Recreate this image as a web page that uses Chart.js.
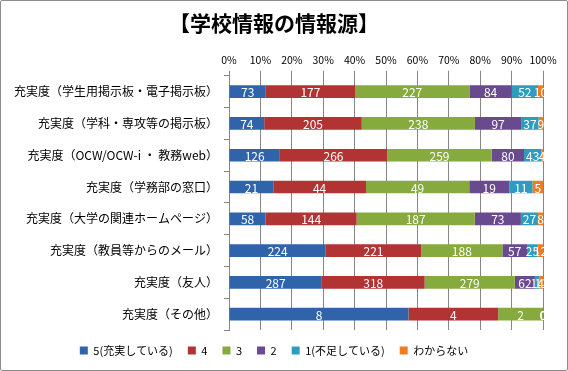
<!DOCTYPE html>
<html>
<head>
<meta charset="utf-8">
<script src="https://cdn.jsdelivr.net/npm/chart.js@4"></script>
<style>
  body { margin: 0; background: #fff; }
  #wrap { width: 566px; height: 369px; border: 1px solid #8c8c8c; border-radius: 2px; }
</style>
</head>
<body>
<div id="wrap"><canvas id="chart" width="566" height="369"></canvas></div>
<script>
// カテゴリ
const categories = [
  "充実度（学生用掲示板・電子掲示板）",
  "充実度（学科・専攻等の掲示板）",
  "充実度（OCW/OCW-i ・ 教務web）",
  "充実度（学務部の窓口）",
  "充実度（大学の関連ホームページ）",
  "充実度（教員等からのメール）",
  "充実度（友人）",
  "充実度（その他）"
];

// 回答数（系列ごと）
const s5 = [73, 74, 126, 21, 58, 224, 287, 8];
const s4 = [177, 205, 266, 44, 144, 221, 318, 4];
const s3 = [227, 238, 259, 49, 187, 188, 279, 2];
const s2 = [84, 97, 80, 19, 73, 57, 62, 0];
const s1 = [52, 37, 43, 11, 27, 25, 14, 0];
const sNA = [10, 9, 4, 5, 8, 12, 11, 0];

const seriesNames = ["5(充実している)", "4", "3", "2", "1(不足している)", "わからない"];
const seriesColors = ["#2F64AA", "#B13333", "#86AA3E", "#6A4A8E", "#2E9CBE", "#EE7D22"];
const tickLabels = ["0%", "10%", "20%", "30%", "40%", "50%", "60%", "70%", "80%", "90%", "100%"];

const allSeries = [s5, s4, s3, s2, s1, sNA];
const totals = categories.map((_, i) => allSeries.reduce((sum, s) => sum + s[i], 0));

const fontJP = "'Noto Sans CJK JP', 'Noto Sans', sans-serif";

// 値ラベル
const valueLabels = {
  id: "valueLabels",
  afterDatasetsDraw(chart) {
    const ctx = chart.ctx;
    ctx.save();
    ctx.font = "12px " + fontJP;
    ctx.fillStyle = "#fff";
    ctx.textAlign = "center";
    ctx.textBaseline = "middle";
    chart.data.datasets.forEach((ds, di) => {
      const meta = chart.getDatasetMeta(di);
      meta.data.forEach((bar, i) => {
        const cx = (bar.x + bar.base) / 2;
        ctx.fillText(String(ds.raw[i]), cx, bar.y + 1);
      });
    });
    ctx.restore();
  }
};

new Chart(document.getElementById("chart"), {
  type: "bar",
  data: {
    labels: categories,
    datasets: allSeries.map((s, k) => ({
      label: seriesNames[k],
      raw: s,
      data: s.map((v, i) => v / totals[i] * 100),
      backgroundColor: seriesColors[k],
      borderWidth: 0,
      barPercentage: 0.8,
      categoryPercentage: 0.5
    }))
  },
  options: {
    indexAxis: "y",
    responsive: false,
    animation: false,
    layout: { padding: { left: 4, right: 24, top: 0, bottom: 4 } },
    plugins: {
      title: {
        display: true,
        text: "【学校情報の情報源】",
        color: "#000",
        font: { family: fontJP, size: 21, weight: "bold" },
        padding: { top: 9, bottom: 15 }
      },
      legend: {
        position: "bottom",
        labels: {
          boxWidth: 8,
          boxHeight: 8,
          padding: 15,
          color: "#000",
          font: { family: fontJP, size: 11 }
        }
      },
      tooltip: { enabled: false }
    },
    scales: {
      x: {
        stacked: true,
        position: "top",
        min: 0,
        max: 100,
        ticks: {
          stepSize: 10,
          color: "#000",
          maxRotation: 0,
          minRotation: 0,
          autoSkip: false,
          padding: 4,
          font: { family: fontJP, size: 10.5 },
          callback: (v, i) => tickLabels[i]
        },
        grid: { color: "#868686", tickLength: 5 },
        border: { display: false }
      },
      y: {
        stacked: true,
        ticks: {
          color: "#000",
          font: { family: fontJP, size: 12 },
          padding: 6
        },
        grid: { drawOnChartArea: false, color: "#868686", tickLength: 5, offset: true },
        border: { color: "#868686" },
        afterFit: (axis) => { axis.width = 224; }
      }
    }
  },
  plugins: [valueLabels]
});
</script>
</body>
</html>
